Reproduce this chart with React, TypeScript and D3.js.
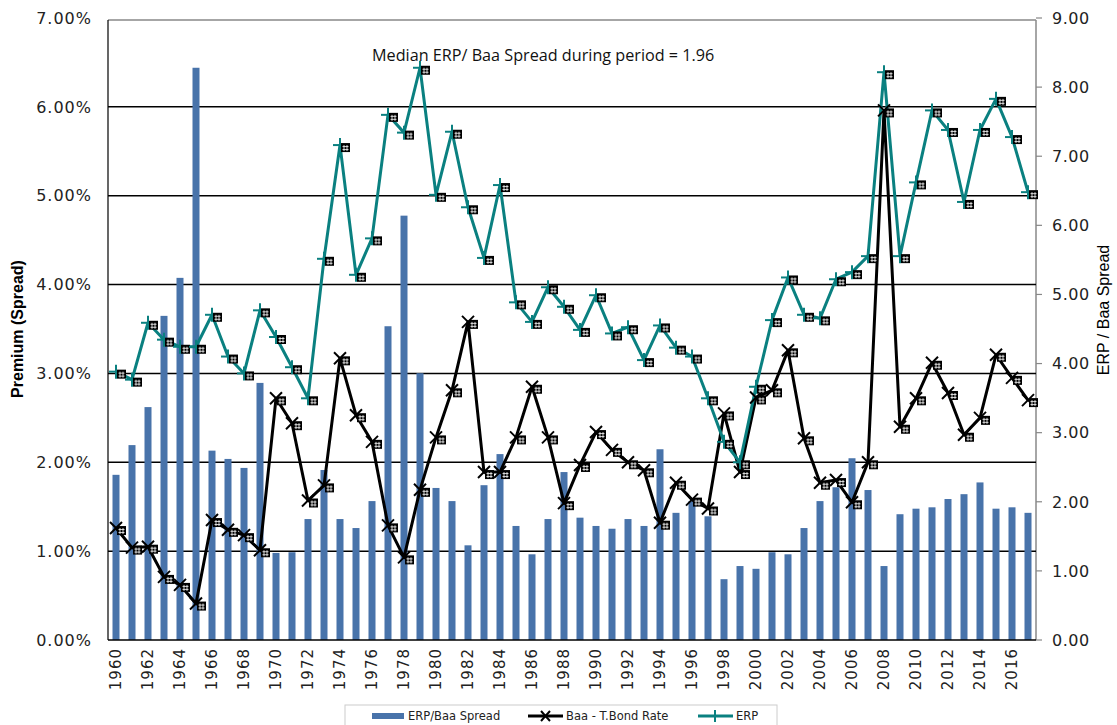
import React from "react";
import * as d3 from "d3";

const years = [
  1960, 1961, 1962, 1963, 1964, 1965, 1966, 1967, 1968, 1969,
  1970, 1971, 1972, 1973, 1974, 1975, 1976, 1977, 1978, 1979,
  1980, 1981, 1982, 1983, 1984, 1985, 1986, 1987, 1988, 1989,
  1990, 1991, 1992, 1993, 1994, 1995, 1996, 1997, 1998, 1999,
  2000, 2001, 2002, 2003, 2004, 2005, 2006, 2007, 2008, 2009,
  2010, 2011, 2012, 2013, 2014, 2015, 2016, 2017,
];

// ERP / Baa spread ratio (right axis)
const ratio = [
  2.39, 2.82, 3.37, 4.69, 5.24, 8.28, 2.74, 2.62, 2.49, 3.72,
  1.26, 1.27, 1.75, 2.46, 1.75, 1.62, 2.01, 4.54, 6.14, 3.86,
  2.2, 2.01, 1.37, 2.24, 2.69, 1.65, 1.24, 1.75, 2.43, 1.77,
  1.65, 1.61, 1.75, 1.65, 2.76, 1.84, 2.01, 1.79, 0.88, 1.07,
  1.03, 1.27, 1.24, 1.62, 2.01, 2.21, 2.63, 2.17, 1.07, 1.82,
  1.9, 1.92, 2.04, 2.11, 2.28, 1.9, 1.92, 1.84,
];

// Baa - T.Bond rate, percent (left axis)
const baaSpread = [
  1.26, 1.04, 1.05, 0.71, 0.62, 0.41, 1.35, 1.24, 1.18, 1.01,
  2.72, 2.44, 1.57, 1.74, 3.17, 2.53, 2.23, 1.29, 0.93, 1.69,
  2.28, 2.81, 3.58, 1.89, 1.89, 2.28, 2.85, 2.28, 1.54, 1.97,
  2.34, 2.14, 2.0, 1.91, 1.32, 1.77, 1.58, 1.48, 2.55, 1.89,
  2.73, 2.81, 3.26, 2.27, 1.77, 1.8, 1.55, 2.0, 5.96, 2.4,
  2.72, 3.12, 2.78, 2.31, 2.5, 3.21, 2.95, 2.7,
];

// ERP, percent (left axis)
const erp = [
  3.02, 2.93, 3.57, 3.38, 3.3, 3.3, 3.66, 3.19, 3.0, 3.71,
  3.41, 3.07, 2.72, 4.29, 5.57, 4.11, 4.52, 5.91, 5.71, 6.44,
  5.01, 5.72, 4.87, 4.3, 5.12, 3.8, 3.58, 3.97, 3.75, 3.49,
  3.88, 3.45, 3.52, 3.15, 3.54, 3.29, 3.19, 2.72, 2.23, 2.0,
  2.85, 3.6, 4.08, 3.66, 3.62, 4.06, 4.14, 4.32, 6.39, 4.32,
  5.15, 5.96, 5.74, 4.93, 5.74, 6.09, 5.66, 5.04,
];

const leftTicks = [0, 1, 2, 3, 4, 5, 6, 7];
const rightTicks = [0, 1, 2, 3, 4, 5, 6, 7, 8, 9];
const labelYears = [
  1960, 1962, 1964, 1966, 1968, 1970, 1972, 1974, 1976, 1978, 1980, 1982,
  1984, 1986, 1988, 1990, 1992, 1994, 1996, 1998, 2000, 2002, 2004, 2006,
  2008, 2010, 2012, 2014, 2016,
];
const seriesNames = ["ERP/Baa Spread", "Baa - T.Bond Rate", "ERP"];
const annotation = "Median ERP/ Baa Spread during period = 1.96";

const W = 1117;
const H = 725;
const L = 108;
const R = 1036;
const T = 18;
const B = 640;
const BAR = "#4873AA";
const TEAL = "#0A8080";
const AXFONT = "'DejaVu Sans', Verdana, sans-serif";

function HashBox({ x, y }: { x: number; y: number }) {
  return (
    <g>
      <rect x={x + 1} y={y - 2} width={9} height={9} fill="#000" />
      <line x1={x + 4} x2={x + 4} y1={y} y2={y + 6} stroke="#fff" strokeWidth={0.8} />
      <line x1={x + 7} x2={x + 7} y1={y} y2={y + 6} stroke="#fff" strokeWidth={0.8} />
      <line x1={x + 2.5} x2={x + 8.5} y1={y + 1.5} y2={y + 1.5} stroke="#fff" strokeWidth={0.8} />
      <line x1={x + 2.5} x2={x + 8.5} y1={y + 4.5} y2={y + 4.5} stroke="#fff" strokeWidth={0.8} />
    </g>
  );
}

export default function App() {
  const x = d3.scaleBand<number>().domain(years).range([L, R]).padding(0);
  const bw = 7;
  const cx = (yr: number) => (x(yr) as number) + x.bandwidth() / 2;
  const yL = d3.scaleLinear().domain([0, 7]).range([B, T]);
  const yR = d3.scaleLinear().domain([0, 9]).range([B, T]);

  const lineBaa = d3
    .line<number>()
    .x((_, i) => cx(years[i]))
    .y((d) => yL(d));
  const lineErp = d3
    .line<number>()
    .x((_, i) => cx(years[i]))
    .y((d) => yL(d));

  return (
    <svg
      width={W}
      height={H}
      style={{ position: "absolute", left: 0, top: 0, background: "#fff" }}
    >
      {/* plot border */}
      <line x1={L} x2={R} y1={T + 2} y2={T + 2} stroke="#888" strokeWidth={1.5} />
      <line x1={R} x2={R} y1={T + 2} y2={B} stroke="#888" strokeWidth={1.5} />

      {/* gridlines */}
      {leftTicks.slice(1, 7).map((t) => (
        <line key={t} x1={L} x2={R} y1={yL(t)} y2={yL(t)} stroke="#000" strokeWidth={1.5} />
      ))}

      {/* bars */}
      {ratio.map((v, i) => (
        <rect
          key={years[i]}
          x={cx(years[i]) - bw / 2}
          y={yR(v)}
          width={bw}
          height={B - yR(v)}
          fill={BAR}
        />
      ))}

      {/* axes lines */}
      <line x1={L} x2={L} y1={T + 2} y2={B} stroke="#000" strokeWidth={1.2} />
      <line x1={L} x2={R} y1={B} y2={B} stroke="#000" strokeWidth={1.5} />

      {/* Baa line */}
      <path d={lineBaa(baaSpread) || ""} fill="none" stroke="#000" strokeWidth={3} strokeLinejoin="round" />
      {/* ERP line */}
      <path d={lineErp(erp) || ""} fill="none" stroke={TEAL} strokeWidth={3} strokeLinejoin="round" />

      {/* Baa markers */}
      {baaSpread.map((v, i) => {
        const px = cx(years[i]);
        const py = yL(v);
        return (
          <g key={"b" + i}>
            <line x1={px - 6} x2={px + 6} y1={py - 6} y2={py + 6} stroke="#000" strokeWidth={2} />
            <line x1={px - 6} x2={px + 6} y1={py + 6} y2={py - 6} stroke="#000" strokeWidth={2} />
            <HashBox x={px} y={py} />
          </g>
        );
      })}

      {/* ERP markers */}
      {erp.map((v, i) => {
        const px = cx(years[i]);
        const py = yL(v);
        return (
          <g key={"e" + i}>
            <line x1={px - 7} x2={px + 7} y1={py} y2={py} stroke={TEAL} strokeWidth={2} />
            <line x1={px} x2={px} y1={py - 7} y2={py + 7} stroke={TEAL} strokeWidth={2} />
            <HashBox x={px} y={py} />
          </g>
        );
      })}

      {/* left axis labels */}
      {leftTicks.map((t) => (
        <text
          key={"l" + t}
          x={92}
          y={yL(t)}
          dy="0.36em"
          textAnchor="end"
          fontFamily={AXFONT}
          fontSize={16}
          letterSpacing={1}
          fill="#222"
        >
          {t.toFixed(2) + "%"}
        </text>
      ))}

      {/* right axis ticks & labels */}
      {rightTicks.map((t) => (
        <g key={"r" + t}>
          <line x1={R} x2={R + 6} y1={yR(t)} y2={yR(t)} stroke="#888" strokeWidth={1.2} />
          <text
            x={1052}
            y={yR(t)}
            dy="0.36em"
            textAnchor="start"
            fontFamily={AXFONT}
            fontSize={16}
            letterSpacing={0.5}
            fill="#222"
          >
            {t.toFixed(2)}
          </text>
        </g>
      ))}

      {/* x labels */}
      {labelYears.map((yr) => (
        <text
          key={"x" + yr}
          transform={`translate(${cx(yr)},${B + 8}) rotate(-90)`}
          dy="0.36em"
          textAnchor="end"
          fontFamily={AXFONT}
          fontSize={15}
          letterSpacing={1}
          fill="#222"
        >
          {yr}
        </text>
      ))}

      {/* axis titles */}
      <text
        transform={`translate(23,${(T + B) / 2}) rotate(-90)`}
        textAnchor="middle"
        fontFamily="'Liberation Sans', Arial, sans-serif"
        fontWeight="bold"
        fontSize={16}
        fill="#000"
      >
        Premium (Spread)
      </text>
      <text
        transform={`translate(1109,310) rotate(-90)`}
        textAnchor="middle"
        fontFamily="'Liberation Sans', Arial, sans-serif"
        fontSize={16}
        fill="#000"
      >
        ERP / Baa Spread
      </text>

      {/* annotation */}
      <text
        x={372}
        y={61}
        fontFamily="'Open Sans', 'Liberation Sans', sans-serif"
        fontSize={16.2}
        fill="#111"
      >
        {annotation}
      </text>

      {/* legend */}
      <rect x={345} y={705} width={432} height={24} fill="#fff" stroke="#ccc" strokeWidth={1} />
      <rect x={372} y={713} width={32} height={6} fill={BAR} />
      <text x={408} y={716} dy="0.36em" fontFamily={AXFONT} fontSize={11.5} fill="#222">
        {seriesNames[0]}
      </text>
      <line x1={528} x2={563} y1={716} y2={716} stroke="#000" strokeWidth={3} />
      <line x1={541} x2={550} y1={711} y2={721} stroke="#000" strokeWidth={2} />
      <line x1={541} x2={550} y1={721} y2={711} stroke="#000" strokeWidth={2} />
      <text x={566} y={716} dy="0.36em" fontFamily={AXFONT} fontSize={11.5} fill="#222">
        {seriesNames[1]}
      </text>
      <line x1={698} x2={733} y1={716} y2={716} stroke={TEAL} strokeWidth={3} />
      <line x1={715} x2={715} y1={710} y2={722} stroke={TEAL} strokeWidth={2} />
      <text x={736} y={716} dy="0.36em" fontFamily={AXFONT} fontSize={11.5} fill="#222">
        {seriesNames[2]}
      </text>
    </svg>
  );
}
